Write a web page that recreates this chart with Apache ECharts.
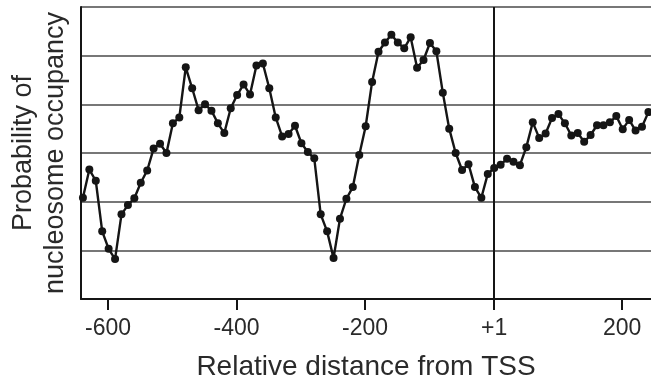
<!DOCTYPE html>
<html>
<head>
<meta charset="utf-8">
<script src="https://cdn.jsdelivr.net/npm/echarts@6/dist/echarts.min.js"></script>
<style>
  html, body { margin: 0; padding: 0; background: #fff; }
  #chart { width: 651px; height: 383px; }
</style>
</head>
<body>
<div id="chart"></div>
<script>
// positions relative to TSS (+1), one point every 10 bp
const positions = [
  -639, -629, -619, -609, -599, -589, -579, -569, -559, -549,
  -539, -529, -519, -509, -499, -489, -479, -469, -459, -449,
  -439, -429, -419, -409, -399, -389, -379, -369, -359, -349,
  -339, -329, -319, -309, -299, -289, -279, -269, -259, -249,
  -239, -229, -219, -209, -199, -189, -179, -169, -159, -149,
  -139, -129, -119, -109, -99, -89, -79, -69, -59, -49,
  -39, -29, -19, -9, 1, 11, 21, 31, 41, 51,
  61, 71, 81, 91, 101, 111, 121, 131, 141, 151,
  161, 171, 181, 191, 201, 211, 221, 231, 241,
];

// occupancy (axis units: one gridline = 1)
const occupancy = [
  2.08, 2.66, 2.43, 1.39, 1.03, 0.82, 1.74, 1.93, 2.07, 2.39,
  2.64, 3.09, 3.19, 3.00, 3.61, 3.73, 4.76, 4.33, 3.88, 4.00,
  3.87, 3.61, 3.41, 3.92, 4.19, 4.41, 4.20, 4.80, 4.84, 4.33,
  3.73, 3.34, 3.39, 3.56, 3.20, 3.02, 2.89, 1.74, 1.39, 0.84,
  1.65, 2.06, 2.30, 2.96, 3.55, 4.46, 5.08, 5.27, 5.43, 5.27,
  5.15, 5.38, 4.75, 4.91, 5.26, 5.09, 4.24, 3.50, 3.00, 2.65,
  2.77, 2.30, 2.08, 2.57, 2.69, 2.76, 2.88, 2.82, 2.75, 3.12,
  3.63, 3.31, 3.40, 3.72, 3.80, 3.61, 3.36, 3.41, 3.23, 3.37,
  3.57, 3.57, 3.63, 3.76, 3.49, 3.68, 3.46, 3.54, 3.84,
];

const xTicks = [-600, -400, -200, 1, 200];
const tssPosition = 1;

const font = 'Liberation Sans, Arial, sans-serif';
const ink = '#151515';

const chart = echarts.init(document.getElementById('chart'), null, { renderer: 'canvas' });

chart.setOption({
  animation: false,
  backgroundColor: '#fff',
  // keep the plot box fixed, don't let v6 shrink it to fit the names
  grid: { left: 81, right: 0, top: 7, bottom: 84, outerBoundsMode: 'none' },
  xAxis: {
    type: 'value',
    min: -642,
    max: 245,
    name: 'Relative distance from TSS',
    nameLocation: 'middle',
    nameGap: 54,
    nameTextStyle: { fontFamily: font, fontSize: 28, color: '#2a2a2a' },
    axisLine: { show: true, onZero: false, lineStyle: { color: ink, width: 2 } },
    axisTick: {
      show: true,
      customValues: xTicks,
      length: 11,
      lineStyle: { color: ink, width: 2 },
    },
    axisLabel: {
      customValues: xTicks,
      margin: 18,
      fontFamily: font,
      fontSize: 23,
      color: '#2a2a2a',
      formatter: (v) => (v === 1 ? '+1' : String(v)),
    },
    splitLine: { show: false },
  },
  yAxis: {
    type: 'value',
    min: 0,
    max: 6,
    interval: 1,
    name: 'Probability of\nnucleosome occupancy',
    nameLocation: 'middle',
    nameRotate: 90,
    nameGap: 9,
    nameTextStyle: { fontFamily: font, fontSize: 27, color: '#2a2a2a', lineHeight: 32 },
    axisLine: { show: true, onZero: false, lineStyle: { color: ink, width: 2 } },
    axisTick: { show: false },
    axisLabel: { show: false },
    splitLine: { show: true, lineStyle: { color: '#4a4a4a', width: 1.6 } },
  },
  series: [
    {
      type: 'line',
      data: positions.map((p, i) => [p, occupancy[i]]),
      symbol: 'circle',
      symbolSize: 8,
      itemStyle: { color: ink },
      lineStyle: { color: ink, width: 2.4 },
      markLine: {
        silent: true,
        symbol: 'none',
        label: { show: false },
        lineStyle: { color: ink, width: 2, type: 'solid' },
        data: [{ xAxis: tssPosition }],
      },
    },
  ],
});
</script>
</body>
</html>
